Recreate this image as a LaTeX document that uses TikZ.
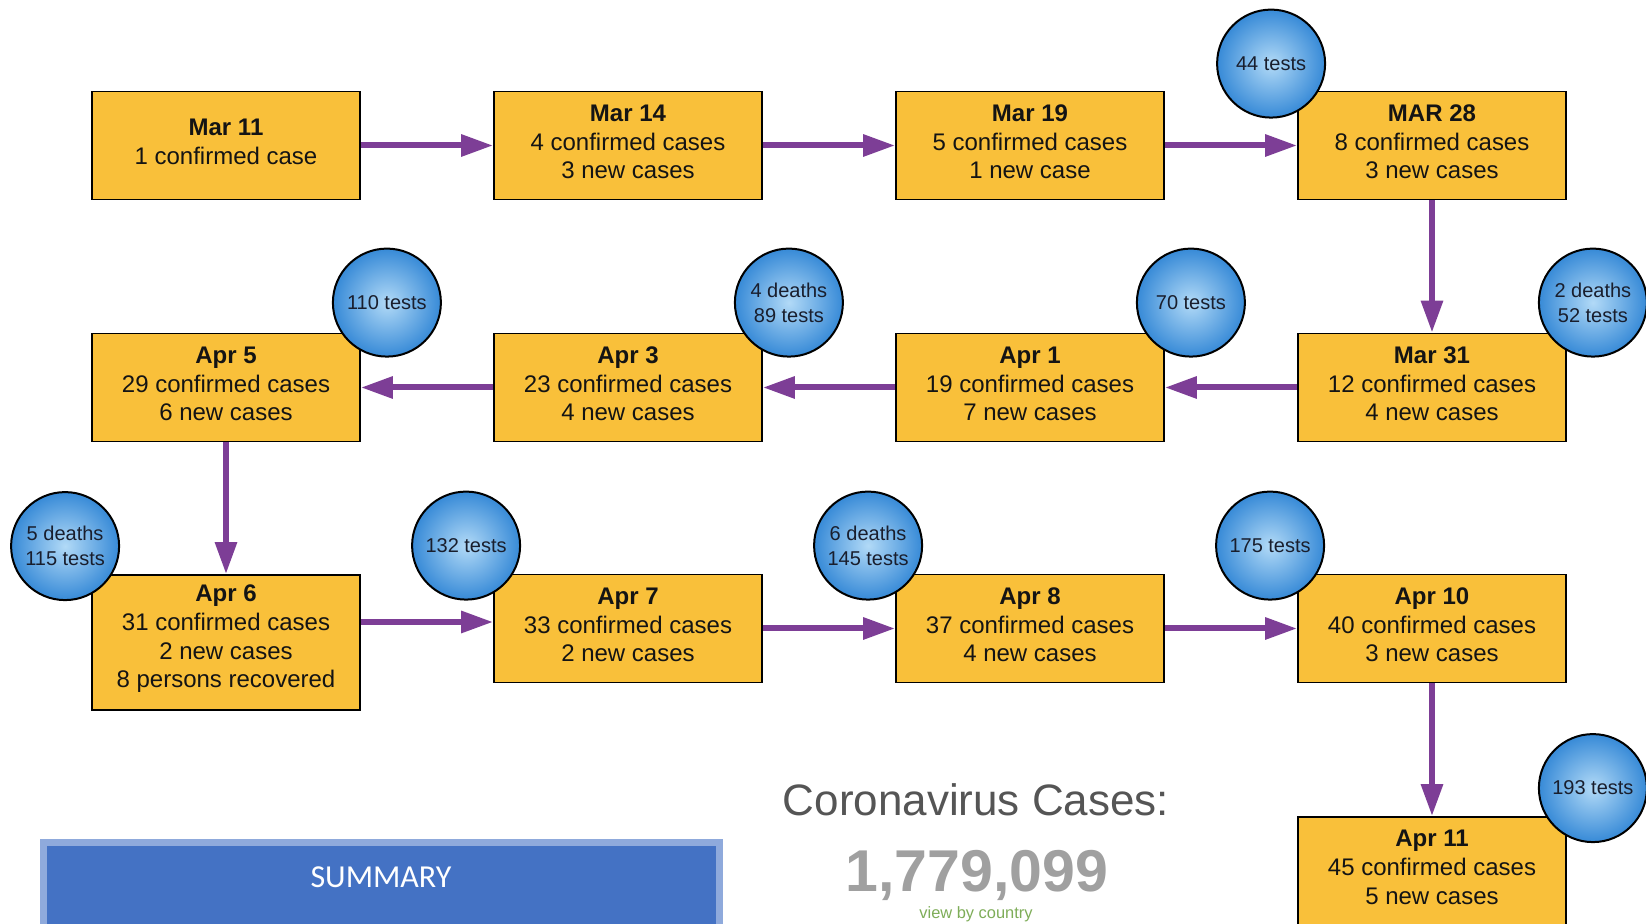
\documentclass[tikz,border=0pt]{standalone}
\usepackage{fontspec}
\setmainfont{Liberation Sans}
\newfontfamily\carlito{Carlito}
\usetikzlibrary{arrows.meta,calc,shadings}

\definecolor{boxfill}{RGB}{249,192,58}
\definecolor{flowc}{RGB}{125,62,150}
\definecolor{circin}{RGB}{178,218,247}
\definecolor{circout}{RGB}{55,138,215}
\definecolor{circtext}{RGB}{25,30,45}
\definecolor{sumfill}{RGB}{68,114,196}
\definecolor{sumedge}{RGB}{143,170,220}
\definecolor{covgray}{RGB}{85,85,85}
\definecolor{numgray}{RGB}{160,160,160}
\definecolor{viewgreen}{RGB}{126,173,88}

\begin{document}
\begin{tikzpicture}[x=0.5pt,y=-0.5pt,
  daybox/.style={draw=black, line width=0.9pt, fill=boxfill, minimum width=134pt,
    minimum height=54pt, inner sep=0pt},
  daytext/.style={align=center, inner sep=0pt, yshift=1.8pt,
    font=\fontsize{12}{14.3}\selectfont, text=black!92},
  tcirc/.style={circle, draw=black, line width=1pt, minimum size=54pt, inner sep=0pt,
    inner color=circin, outer color=circout, align=center,
    font=\fontsize{10}{12.5}\selectfont, text=circtext},
  flow/.style={draw=flowc, line width=3pt, -{Triangle[length=16pt,width=10.5pt]}}
]
\useasboundingbox (0,0) rectangle (1646,924);
\clip (0,0) rectangle (1646,924);
\fill[white] (0,0) rectangle (1646,924);

% row 1
\node[daybox, label={[daytext]center:{\textbf{Mar 11}\\1 confirmed case}}] (m11) at (226,145.5) {};
\node[daybox, label={[daytext]center:{\textbf{Mar 14}\\4 confirmed cases\\3 new cases}}] (m14) at (628,145.5) {};
\node[daybox, label={[daytext]center:{\textbf{Mar 19}\\5 confirmed cases\\1 new case}}] (m19) at (1030,145.5) {};
\node[daybox, label={[daytext]center:{\textbf{MAR 28}\\8 confirmed cases\\3 new cases}}] (m28) at (1432,145.5) {};
% row 2
\node[daybox, label={[daytext]center:{\textbf{Apr 5}\\29 confirmed cases\\6 new cases}}] (a5) at (226,387.5) {};
\node[daybox, label={[daytext]center:{\textbf{Apr 3}\\23 confirmed cases\\4 new cases}}] (a3) at (628,387.5) {};
\node[daybox, label={[daytext]center:{\textbf{Apr 1}\\19 confirmed cases\\7 new cases}}] (a1) at (1030,387.5) {};
\node[daybox, label={[daytext]center:{\textbf{Mar 31}\\12 confirmed cases\\4 new cases}}] (m31) at (1432,387.5) {};
% row 3
\node[daybox, minimum height=67.5pt, label={[daytext]center:{\textbf{Apr 6}\\31 confirmed cases\\2 new cases\\8 persons recovered}}] (a6) at (226,642.5) {};
\node[daybox, label={[daytext]center:{\textbf{Apr 7}\\33 confirmed cases\\2 new cases}}] (a7) at (628,628.5) {};
\node[daybox, label={[daytext]center:{\textbf{Apr 8}\\37 confirmed cases\\4 new cases}}] (a8) at (1030,628.5) {};
\node[daybox, label={[daytext]center:{\textbf{Apr 10}\\40 confirmed cases\\3 new cases}}] (a10) at (1432,628.5) {};
% row 4
\node[daybox, label={[daytext]center:{\textbf{Apr 11}\\45 confirmed cases\\5 new cases}}] (a11) at (1432,871) {};

% connectors
\draw[flow] (m11) -- (m14);
\draw[flow] (m14) -- (m19);
\draw[flow] (m19) -- (m28);
\draw[flow] (m28) -- (m31);
\draw[flow] (m31) -- (a1);
\draw[flow] (a1) -- (a3);
\draw[flow] (a3) -- (a5);
\draw[flow] (a5) -- (a6);
\draw[flow] ([yshift=3.25pt]a7.west -| a6.east) -- ([yshift=3.25pt]a7.west);
\draw[flow] (a7) -- (a8);
\draw[flow] (a8) -- (a10);
\draw[flow] (a10) -- (a11);

% circles
\node[tcirc] (t1) at ($(m28.north west)+(-26,-27)$) {44 tests};
\node[tcirc] (t2) at ($(a5.north east)+(26,-30)$) {110 tests};
\node[tcirc] (t3) at ($(a3.north east)+(26,-30)$) {4 deaths\\89 tests};
\node[tcirc] (t4) at ($(a1.north east)+(26,-30)$) {70 tests};
\node[tcirc] (t5) at ($(m31.north east)+(26,-30)$) {2 deaths\\52 tests};
\node[tcirc] (t6) at ($(a6.north west)+(-26,-28)$) {5 deaths\\115 tests};
\node[tcirc] (t7) at ($(a7.north west)+(-27,-28)$) {132 tests};
\node[tcirc] (t8) at ($(a8.north west)+(-27,-28)$) {6 deaths\\145 tests};
\node[tcirc] (t9) at ($(a10.north west)+(-27,-28)$) {175 tests};
\node[tcirc] (t10) at ($(a11.north east)+(26,-28)$) {193 tests};

% summary banner
\draw[draw=sumedge, fill=sumfill, line width=3.5pt] (43.5,842.5) rectangle (719.5,960);
\node[text=white, font=\carlito\fontsize{16}{19}\selectfont] (summary) at (381,877) {SUMMARY};

% coronavirus counter
\node[anchor=base, text=covgray, font=\fontsize{22}{26}\selectfont, inner sep=0pt] (covtitle) at (976,816) {Coronavirus Cases:};
\node[anchor=base, text=numgray, font=\bfseries\fontsize{29.5}{34}\selectfont, inner sep=0pt] (covnum) at (977,892) {1,779,099};
\node[anchor=base, text=viewgreen, font=\fontsize{8.2}{10}\selectfont, inner sep=0pt] (viewc) at (976,919) {view by country};
\end{tikzpicture}
\end{document}
